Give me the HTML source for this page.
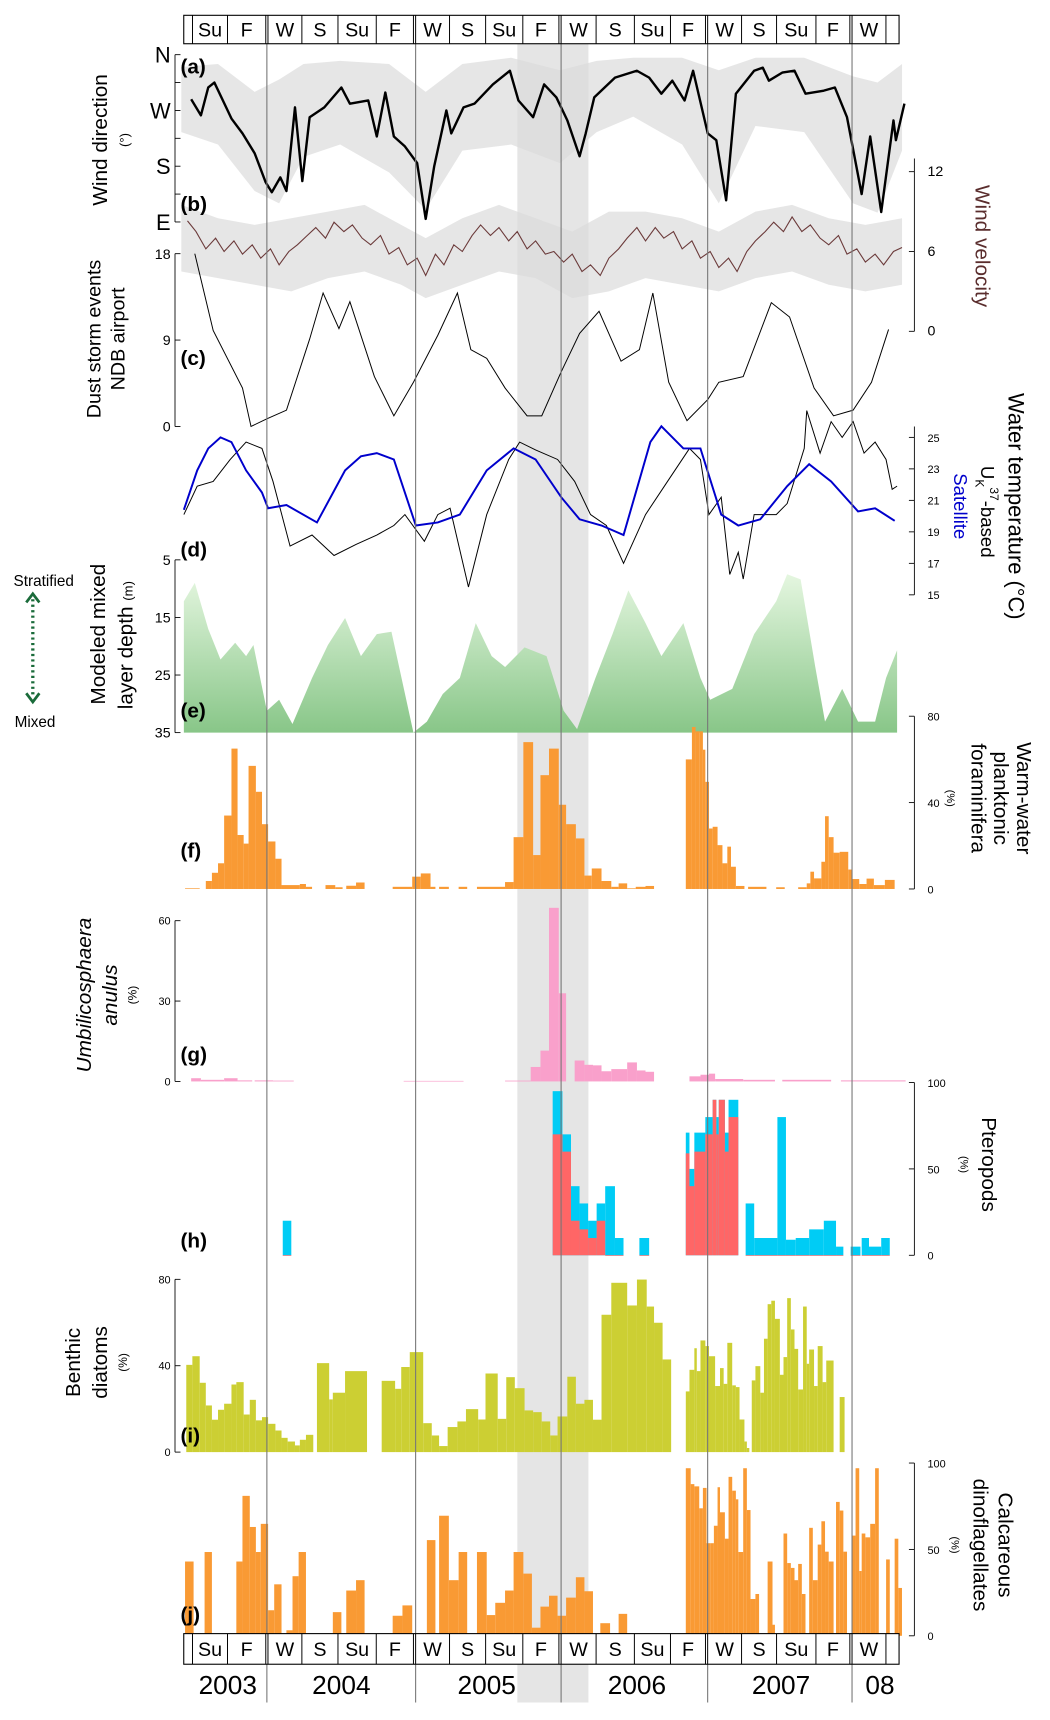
<!DOCTYPE html>
<html><head><meta charset="utf-8"><style>
html,body{margin:0;padding:0;background:#fff;}
svg{display:block;font-family:"Liberation Sans",Arial,sans-serif;}
</style></head><body>
<svg id="chart" xmlns="http://www.w3.org/2000/svg" width="1050" height="1720" viewBox="0 0 960 1573" preserveAspectRatio="none">
<defs>
<linearGradient id="mldGrad" gradientUnits="userSpaceOnUse" x1="0" y1="520" x2="0" y2="670">
<stop offset="0" stop-color="#e8f8e3"/><stop offset="1" stop-color="#88c688"/>
</linearGradient>
</defs>
<g id="bg"></g>
<g id="marks"></g>
<g id="axes"></g>
</svg>
<script>
// ---- data (time in months since Jan 2003) ----
const dirTime=[5.8,6.6,7.2,7.7,8.4,9.1,10.0,11.0,11.9,12.4,13.1,13.6,14.3,14.9,15.5,16.7,18.1,18.8,20.3,21.0,21.7,22.4,23.3,24.3,25.0,25.7,26.7,27.1,28.1,29.0,30.5,31.9,32.6,33.8,34.7,35.7,36.6,37.6,38.1,38.8,40.5,42.3,43.3,44.3,45.2,46.2,46.9,48.1,48.8,49.6,50.4,51.9,52.6,53.1,54.2,55.2,56.1,57.6,58.5,59.5,60.7,61.4,62.3,63.3,63.5,64.2];
const dirDeg=[288,262,307,315,286,257,233,201,154,138,162,140,275,156,259,275,307,281,286,228,299,228,212,185,95,180,270,233,275,281,312,334,286,259,312,291,254,196,233,291,323,334,323,297,318,286,334,233,222,125,297,334,339,318,331,334,297,302,307,259,135,228,106,254,222,281];
const envTime=[5,8,11,13,15,18,22,25,28,32,36,39,42,46,49,52,56,60,62,64];
const envHigh=[340,345,300,320,345,350,345,300,345,355,335,350,355,355,335,355,355,325,315,345];
const envLow=[235,215,140,120,195,215,170,110,205,215,185,235,260,215,120,245,235,120,105,205];
const velTime=[5.5,6.2,7,7.8,8.5,9.3,10,10.8,11.5,12.3,13,13.8,14.5,15.3,16,16.8,17.5,18.3,19,19.8,20.5,21.3,22,22.8,23.5,24.3,25,25.8,26.5,27.3,28,28.8,29.5,30.3,31,31.8,32.5,33.3,34,34.8,35.5,36.3,37,37.8,38.5,39.3,40,40.8,41.5,42.3,43,43.8,44.5,45.3,46,46.8,47.5,48.3,49,49.8,50.5,51.3,52,52.8,53.5,54.3,55,55.8,56.5,57.3,58,58.8,59.5,60.3,61,61.8,62.5,63.3,64];
const velVal=[8.3,7.5,6.2,7,6,6.8,5.8,6.5,5.5,6.2,5,6,6.5,7.2,7.8,7,8.2,7.5,8,7,6.5,7.2,5.8,6.3,5,5.5,4.2,5.8,5,6.5,6,7.2,8,7.2,7.8,6.8,7.5,6.2,6.8,5.8,6,5.2,5.8,4.5,5,4.2,5.5,6.2,7,7.8,6.8,7.8,7,7.5,6.2,6.8,5.5,6,4.8,5.5,4.5,6,6.8,7.5,8.2,7.5,8.6,7.5,8,7,6.5,7.2,5.8,6.2,5.2,5.8,5,6,6.3];
const velEnvTime=[5,8,11,14,17,20,23,25,28,31,34,37,40,43,46,49,52,55,58,61,64];
const velHigh=[9.5,8.5,8,8.5,9,9.5,8,7,8.5,9.5,8.5,7.5,9,9,8.5,7.5,9,9.5,8.5,8,8.5];
const velLow=[4.5,4,3.5,3,4,4.5,3.5,2.5,3.5,4.5,4,2.5,3,4,3.5,3,4,4.5,3.5,3,3.5];
const dustTime=[6.1,7.6,10.0,10.7,12.0,13.6,15.5,16.6,17.9,18.8,20.8,22.4,24.0,26.0,27.6,28.7,30.0,31.5,33.3,34.5,36.1,37.6,39.2,41.0,42.5,43.6,44.9,46.4,48.1,49.0,51.0,53.3,54.8,56.8,58.4,60.0,61.5,62.9];
const dustVal=[18,10.0,4.0,0,0.8,1.7,9.1,13.9,10.2,13.0,5.2,1.1,4.6,9.5,13.9,8.0,7.1,4.0,1.1,1.1,5.7,9.7,12.0,6.8,8.0,13.9,4.6,0.6,2.8,4.6,5.2,12.9,11.4,4.0,1.1,1.7,4.6,10.1];
const satTime=[5.2,6.3,7.2,8.2,9.1,10.3,11.6,12.1,13.6,16.1,18.4,19.7,21.0,22.4,24.2,26.0,27.8,30.0,32.2,34.0,36.1,37.6,39.4,41.2,43.4,44.3,46.1,47.5,49.2,50.6,52.4,54.6,56.4,58.2,60.4,61.8,63.4];
const satTemp=[20.4,22.9,24.3,25.0,24.7,22.9,21.5,20.5,20.7,19.6,22.9,23.8,24.0,23.6,19.4,19.6,20.1,22.9,24.3,23.6,21.2,19.8,19.4,18.8,24.7,25.7,24.3,24.3,20.1,19.4,19.8,21.9,23.3,22.2,20.3,20.5,19.7];
const ukTime=[5.2,6.3,7.6,9.0,10.3,11.6,12.5,13.9,15.7,17.5,19.3,21.0,22.4,23.3,24.9,26.0,27.0,28.5,30.0,31.8,32.7,34.0,35.8,37.2,38.5,39.8,41.2,43.0,44.8,46.6,47.5,48.2,49.2,49.9,50.6,51.0,51.9,53.7,54.6,56.0,56.2,57.3,58.2,59.1,60.0,60.9,61.8,62.7,63.2,63.6];
const ukTemp=[20.1,21.9,22.2,23.6,24.7,24.3,22.2,18.1,18.8,17.5,18.2,18.8,19.4,20.1,18.4,20.1,20.5,15.5,20.1,23.6,24.7,24.2,23.6,22.2,20.1,19.4,17.0,20.1,22.2,24.3,23.6,20.1,21.2,16.3,17.7,16.0,20.1,20.1,20.8,24.3,26.7,24.0,26.0,25.0,26.0,24.0,24.7,23.6,21.7,21.9];
const mldTime=[5.2,6.1,7.2,8.2,9.4,10.3,10.9,12.0,13.0,14.1,15.7,17.0,18.4,19.7,21.0,22.2,24.0,25.1,26.4,27.8,29.1,30.4,31.5,33.1,34.9,36.3,37.4,38.9,40.3,41.6,43.0,44.3,46.1,47.5,48.3,50.1,51.9,53.7,54.6,55.7,56.9,57.7,59.1,60.4,61.8,62.7,63.6];
const mldDepth=[12.2,9.0,17.0,22.3,19.4,21.7,19.8,31.2,29.3,33.5,25.5,19.8,15.1,21.7,17.9,17.5,35,33.1,28.3,25.5,16.0,21.7,23.6,20.2,21.7,31.2,34.4,25.5,17.9,10.3,16.0,21.7,16.0,25.5,29.3,27.4,17.9,12.2,7.5,8.4,23.6,33.1,27.4,33.1,33.1,25.5,20.7];
const foramEdges=[5.3,6.5,7.0,7.5,8.0,8.5,9.1,9.6,10.1,10.5,11.1,11.6,12.1,12.7,13.2,14.7,15.2,15.7,16.8,17.6,18.2,18.5,19.3,20.0,22.3,23.9,24.6,25.4,25.8,26.1,26.9,27.7,28.4,29.2,31.5,32.2,33.0,33.8,34.4,35.1,35.9,36.5,37.3,38.0,38.6,39.4,40.2,40.8,41.5,42.2,43.0,43.7,46.3,46.8,47.1,47.4,47.7,47.9,48.2,48.5,48.9,49.3,49.7,50.0,50.4,51.1,51.4,52.9,53.7,54.4,55.5,56.2,56.5,56.8,57.4,57.7,58.0,58.4,58.9,59.6,59.9,60.5,61.1,61.7,62.6,63.4];
const foramVal=[0.3,null,3.7,7.5,11.9,34,65,25,21,57,45,30,22,14,1.8,2.3,1,null,1.8,0.8,null,1.5,3,null,1,5.7,7.2,1,null,1,null,1,null,1,3.2,24,68,15.7,52.7,65,39,30,23.4,6.2,9.5,3.7,1,2.6,0.3,1,1.4,null,60,75,73,73,64.5,49.6,28,28.8,20.3,11.9,19.6,10.3,1.4,null,1,null,0.8,null,0.8,2.6,8,4.9,12.6,33.7,24,16.8,17.2,9,4.6,2.3,4.8,1.8,4.2];
const umbEdges=[5.8,6.6,8.5,9.6,10.8,11.0,12.5,14.2,23.2,28.1,31.5,33.6,34.4,35.1,35.9,36.5,37.2,38.0,38.7,39.4,40.2,41.5,42.3,43.0,43.7,46.6,47.5,48.2,48.7,51.0,53.6,54.2,58.2,59.0,64.3];
const umbVal=[1.2,0.6,1.2,0.4,null,0.4,0.3,null,0.2,null,0.3,5.4,11.5,64.8,32.9,null,7.8,6.2,6,3.8,4.6,7.1,4.1,3.6,null,1.9,2.5,2.9,0.9,0.6,null,0.6,null,0.4];
const pterEdges=[13.3,14.0,35.4,36.2,36.9,37.6,38.3,39.0,39.7,40.5,41.2,42.5,43.3,46.3,46.6,47.0,47.9,48.5,48.8,49.0,49.5,49.8,50.6,51.2,51.9,53.8,54.5,55.3,56.4,57.6,58.6,59.2,59.8,60.6,60.7,61.3,62.3,63.0];
const pterTotal=[20,null,95,70,40,30,20,30,40,10,null,10,null,71,50,71,80,90,80,90,71,90,null,30,10,80,9,10,15,20,5,null,5,null,10,5,10];
const pterRed=[0,null,70,60,20,15,10,20,0,0,null,0,null,59,40,60,70,90,70,90,60,80,null,0,0,0,0,0,0,0,0,null,0,null,0,0,0];
const diaEdges=[5.4,5.9,6.5,7.0,7.5,8.0,8.5,9.1,9.5,10.1,10.6,11.1,11.6,12.1,12.7,13.2,13.7,14.3,14.7,15.2,15.8,16.1,17.1,17.4,18.4,20.2,21.4,22.5,23.0,23.7,24.8,25.5,26.1,26.8,27.6,28.3,29.3,29.9,30.9,31.6,32.3,33.1,33.8,34.5,35.2,35.8,36.6,37.3,38.0,38.7,39.4,40.2,41.5,42.3,43.1,43.7,44.4,45.1,46.3,46.6,47.0,47.2,47.5,47.9,48.2,48.7,49.1,49.4,49.7,50.1,50.4,50.7,51.1,51.3,51.5,51.7,52.0,52.4,52.7,53.0,53.3,53.6,54.0,54.3,54.6,54.9,55.2,55.5,55.9,56.2,56.4,56.8,57.1,57.5,57.8,58.4,58.9,59.3];
const diaVal=[40.4,44.4,32.1,21.6,15,19.6,22.4,31.3,32.4,17.4,24.2,14.7,16.2,13.1,10,6.6,4.9,3.1,5.7,8,null,41.2,24.4,27.5,37.5,null,33,29.3,39.4,46.3,13.4,7.7,2.8,11.6,14.2,19.9,15.1,36.4,15.4,34.7,29.6,19.3,18.5,14.2,7.7,16.5,34.9,22.4,24.2,15,63.6,78.4,67.9,79.9,67.4,59.9,42.9,null,28.1,38.1,48.1,37.5,51.7,49.1,44.4,30.6,38.9,31.6,50.6,30.9,30.1,15.1,4.9,1.9,null,33.2,39.8,27.5,52.5,68.5,70.1,61.7,35.8,44,71.3,56.8,47.8,29,67.4,40.9,47.5,30.6,49.1,32.4,42.4,null,25.5];
const dinoEdges=[5.3,6.0,6.9,7.5,9.5,10.0,10.6,11.1,11.5,12.1,12.6,13.2,13.6,14.1,14.6,15.2,17.4,18.1,18.5,19.3,20.0,22.3,23.1,23.9,25.1,25.8,26.1,26.9,27.7,28.4,29.2,30.0,30.7,31.5,32.2,33.0,33.7,34.4,35.1,35.8,36.5,37.3,38.0,38.7,39.3,40.1,40.8,41.5,46.3,46.7,47.0,47.4,47.7,48.0,48.3,48.6,48.9,49.1,49.5,49.8,50.1,50.4,50.6,51.0,51.3,51.6,52.0,52.3,53.0,53.4,53.6,54.3,54.6,54.9,55.2,55.5,55.8,56.1,56.4,56.7,57.1,57.4,57.7,58.0,58.4,58.6,58.9,59.2,59.5,59.9,60.2,60.5,60.7,61.0,61.4,61.8,62.1,62.7,63.0,63.4,63.7,64.0];
const dinoVal=[43,null,48.5,null,43,81,63,48.5,64.8,14.8,29.8,null,3.2,34.5,48.5,null,13.7,null,26.2,32.2,null,11.6,17.6,null,55.4,null,69.5,32.2,48.5,null,48.5,12,19.1,26.2,48.5,36,4.7,16.9,23.2,11.6,22.1,33.9,25.8,null,7.3,null,12.7,null,97,87.8,86.5,73.8,85.6,53.6,53.6,63.7,86,71.5,56.2,92,84,79,48.5,97,72.8,21.3,24.2,null,43,6.4,null,59.2,42.1,39.3,32.2,41.6,24.2,null,62.5,32.2,52.8,66.3,48.7,43,null,77.5,72.5,48.7,null,58,97,37.5,59.2,57,64.8,97,null,44.2,null,56.2,27.7];
const yearLabels=["2003","2004","2005","2006","2007","08"];
const yearLabelMonth=[8.8,18.1,30.0,42.3,54.1,62.2];
const seasonLabels=["Su","F","W","S","Su","F","W","S","Su","F","W","S","Su","F","W","S","Su","F","W"];

// ---- scales ----
const NS="http://www.w3.org/2000/svg";
const X=m=>244+(m-12)*134/12;
const Ydir=d=>50+(360-d)/270*153;
const Yvel=v=>303-v*(146/12);
const Ydust=n=>390-n*(158/18);
const Ytemp=t=>400+(25-t)*14.4;
const Ymld=d=>512+(d-5)*(158/30);
const Yf=v=>813-v*(158/80);
const Yg=v=>989-v*(147/60);
const Yh=v=>1148-v*(158/100);
const Yi=v=>1328-v*(158/80);
const Yj=v=>1496-v*(158/100);

function mk(tag,attrs,parent){const e=document.createElementNS(NS,tag);for(const k in attrs)e.setAttribute(k,attrs[k]);(parent||document.getElementById('marks')).appendChild(e);return e;}
function txt(s,x,y,opts,parent){const e=mk('text',Object.assign({x:x,y:y},opts||{}),parent||document.getElementById('axes'));e.textContent=s;return e;}
const bg=document.getElementById('bg'),axes=document.getElementById('axes'),marks=document.getElementById('marks');

let band=mk('rect',{x:473,y:40,width:65,height:1517,fill:'#e5e5e5'},bg);


[244,380,513,647,779].forEach(x=>{
  const l=mk('line',{x1:x,y1:40,x2:x,y2:1557,stroke:'#777','stroke-width':1},axes);
  
  
});

function seasonBox(y0,h){
  const g=mk('g',{},axes);
  
  
  mk('rect',{x:168,y:y0,width:654,height:h,fill:'#fff',stroke:'#000','stroke-width':1},g);
  const seps=[176,208,243,245,276,309,344,378,380,411,444,478,511,513,545,580,613,645,647,678,710,746,777,779,810];
  seps.forEach(x=>mk('line',{x1:x,y1:y0,x2:x,y2:y0+h,stroke:'#000','stroke-width':0.9},g));
  const cells=[[176,208],[208,243],[245,276],[276,309],[309,344],[344,378],[380,411],[411,444],[444,478],[478,511],[513,545],[545,580],[580,613],[613,645],[647,678],[678,710],[710,746],[746,777],[779,810]];
  cells.forEach((c,i)=>{const t=txt(seasonLabels[i],(c[0]+c[1])/2,y0+h/2+6.5,{'text-anchor':'middle','font-size':18},g);
    
    });
}
seasonBox(14,26);
seasonBox(1494,28);
yearLabels.forEach((s,i)=>{const t=txt(s,X(yearLabelMonth[i]),1549,{'text-anchor':'middle','font-size':24});
  
  });

function poly(ts,vs,sc){return ts.map((t,i)=>X(t).toFixed(1)+','+sc(vs[i]).toFixed(1)).join(' ');}
function envelope(ts,hi,lo,sc){const up=ts.map((t,i)=>X(t).toFixed(1)+','+sc(hi[i]).toFixed(1));const dn=ts.map((t,i)=>X(t).toFixed(1)+','+sc(lo[i]).toFixed(1)).reverse();return up.concat(dn).join(' ');}
function bars(edges,vals,sc,color,name){
  const n=Math.min(vals.length,edges.length-1);
  for(let i=0;i<n;i++){if(vals[i]==null)continue;
    const x0=X(edges[i]),x1=X(edges[i+1]);const y=sc(vals[i]),y0=sc(0);
    const r=mk('rect',{x:x0.toFixed(2),y:y.toFixed(2),width:(x1-x0).toFixed(2),height:Math.max(0.6,y0-y).toFixed(2),fill:color});
    
    }
}

let e=mk('polygon',{points:envelope(envTime,envHigh,envLow,Ydir),fill:'#dcdcdc',opacity:0.7});


e=mk('polygon',{points:envelope(velEnvTime,velHigh,velLow,Yvel),fill:'#dcdcdc',opacity:0.7});


e=mk('polyline',{points:poly(dirTime,dirDeg,Ydir),fill:'none',stroke:'#000','stroke-width':2.2,'stroke-linejoin':'round'});


e=mk('polyline',{points:poly(velTime.slice(0,velVal.length),velVal,Yvel),fill:'none',stroke:'#6b3a3a','stroke-width':1});


e=mk('polyline',{points:poly(dustTime,dustVal,Ydust),fill:'none',stroke:'#000','stroke-width':0.9});


e=mk('polyline',{points:poly(ukTime,ukTemp,Ytemp),fill:'none',stroke:'#000','stroke-width':0.9});


e=mk('polyline',{points:poly(satTime,satTemp,Ytemp),fill:'none',stroke:'#0000cc','stroke-width':1.8});


e=mk('polygon',{points:X(mldTime[0]).toFixed(1)+','+Ymld(35)+' '+poly(mldTime,mldDepth,Ymld)+' '+X(mldTime[mldTime.length-1]).toFixed(1)+','+Ymld(35),fill:'url(#mldGrad)'});


bars(foramEdges,foramVal,Yf,'#f99a34','foram-bar');
bars(umbEdges,umbVal,Yg,'#f9a0cb','umbilicosphaera-bar');
bars(pterEdges,pterTotal,Yh,'#00ccf5','pteropod-bar-blue');
bars(pterEdges,pterRed,Yh,'#ff6666','pteropod-bar-red');
bars(diaEdges,diaVal,Yi,'#cccf33','diatom-bar');
bars(dinoEdges,dinoVal,Yj,'#f99a34','dinoflagellate-bar');

function leftAxis(x,ticks,labels,sc,fs,name){
  const g=mk('g',{},axes);
  
  
  mk('line',{x1:x,y1:sc(ticks[0]),x2:x,y2:sc(ticks[ticks.length-1]),stroke:'#000','stroke-width':0.8},g);
  ticks.forEach((t,i)=>{mk('line',{x1:x,y1:sc(t),x2:x+5,y2:sc(t),stroke:'#000','stroke-width':0.8},g);
    if(labels[i]!=='')txt(labels[i],x-4,sc(t)+fs*0.36,{'text-anchor':'end','font-size':fs},g);});
}
function rightAxis(x,ticks,labels,sc,fs,name,top){
  const g=mk('g',{},axes);
  
  
  const ys=ticks.map(sc);
  mk('line',{x1:x,y1:top!=null?top:Math.min(...ys),x2:x,y2:Math.max(...ys),stroke:'#000','stroke-width':0.8},g);
  ticks.forEach((t,i)=>{mk('line',{x1:x-5,y1:sc(t),x2:x,y2:sc(t),stroke:'#000','stroke-width':0.8},g);
    txt(labels[i],x+12,sc(t)+4,{'font-size':fs},g);});
}
leftAxis(160,[360,315,270,225,180,135,90],['N','','W','','S','','E'],Ydir,20,'wind-direction-axis');
rightAxis(836,[12,6,0],['12','6','0'],Yvel,13,'wind-velocity-axis',145);
leftAxis(160,[18,9,0],['18','9','0'],Ydust,13,'dust-axis');
rightAxis(836,[25,23,21,19,17,15],['25','23','21','19','17','15'],Ytemp,10,'temperature-axis',390);
leftAxis(160,[5,15,25,35],['5','15','25','35'],Ymld,13,'mixed-layer-axis');
rightAxis(836,[80,40,0],['80','40','0'],Yf,10,'foram-axis');
leftAxis(160,[60,30,0],['60','30','0'],Yg,10,'umbilicosphaera-axis');
rightAxis(836,[100,50,0],['100','50','0'],Yh,10,'pteropod-axis');
leftAxis(160,[80,40,0],['80','40','0'],Yi,10,'diatom-axis');
rightAxis(836,[100,50,0],['100','50','0'],Yj,10,'dinoflagellate-axis');

[['(a)',67],['(b)',193],['(c)',334],['(d)',509],['(e)',656],['(f)',784],['(g)',971],['(h)',1141],['(i)',1319],['(j)',1483]].forEach(p=>{
  const t=txt(p[0],165,p[1],{'font-size':19,'font-weight':'bold'});
  
  
});

function vtitle(lines,x,y,rot,fs,opts){
  const t=mk('text',Object.assign({transform:`translate(${x},${y}) rotate(${rot})`,'text-anchor':'middle','font-size':fs},opts||{}),axes);
  t.textContent=lines;return t;
}
let t;
t=vtitle('Wind direction',98,128,-90,19);  
t=vtitle('(°)',118,128,-90,12);  
t=vtitle('Dust storm events',92,310,-90,18);  
t=vtitle('NDB airport',114,310,-90,18);  
t=vtitle('Modeled mixed',96,580,-90,19);  
t=mk('text',{transform:'translate(121,590) rotate(-90)','text-anchor':'middle','font-size':19},axes);
t.innerHTML='layer depth <tspan font-size="12">(m)</tspan>';
 
t=vtitle('Umbilicosphaera',83,910,-90,19,{'font-style':'italic'});  
t=vtitle('anulus',107,910,-90,19,{'font-style':'italic'});  
t=vtitle('(%)',125,910,-90,11);  
t=vtitle('Benthic',73,1246,-90,19);  
t=vtitle('diatoms',98,1246,-90,19);  
t=vtitle('(%)',116,1246,-90,11);  
t=vtitle('Wind velocity',892,225,90,19,{fill:'#5a2d2d'});  
t=vtitle('Water temperature (°C)',922,463,90,20);  
t=mk('text',{transform:'translate(897,468) rotate(90)','text-anchor':'middle','font-size':17},axes);
t.innerHTML='U<tspan font-size="11" dy="5">K</tspan><tspan font-size="11" dy="-13">37</tspan><tspan dy="8">-based</tspan>';
 
t=vtitle('Satellite',872,463,90,17,{fill:'#0000cc'});  
t=vtitle('Warm-water',930,730,90,19);  
t=vtitle('planktonic',909,730,90,19);  
t=vtitle('foraminifera',888,730,90,19);  
t=vtitle('(%)',866,730,90,10);  
t=vtitle('Pteropods',898,1065,90,19);  
t=vtitle('(%)',878,1065,90,10);  
t=vtitle('Calcareous',913,1413,90,19);  
t=vtitle('dinoflagellates',890,1413,90,19);  
t=vtitle('(%)',870,1413,90,10);  

t=txt('Stratified',40,536,{'text-anchor':'middle','font-size':14});  
t=txt('Mixed',32,665,{'text-anchor':'middle','font-size':14});  
const ar=mk('g',{},axes);


mk('line',{x1:30,y1:548,x2:30,y2:637,stroke:'#1a6b3a','stroke-width':3,'stroke-dasharray':'2 3'},ar);
mk('polyline',{points:'24,551 30,543 36,551',fill:'none',stroke:'#1a6b3a','stroke-width':2.5},ar);
mk('polyline',{points:'24,634 30,642 36,634',fill:'none',stroke:'#1a6b3a','stroke-width':2.5},ar);
</script>
</body></html>
